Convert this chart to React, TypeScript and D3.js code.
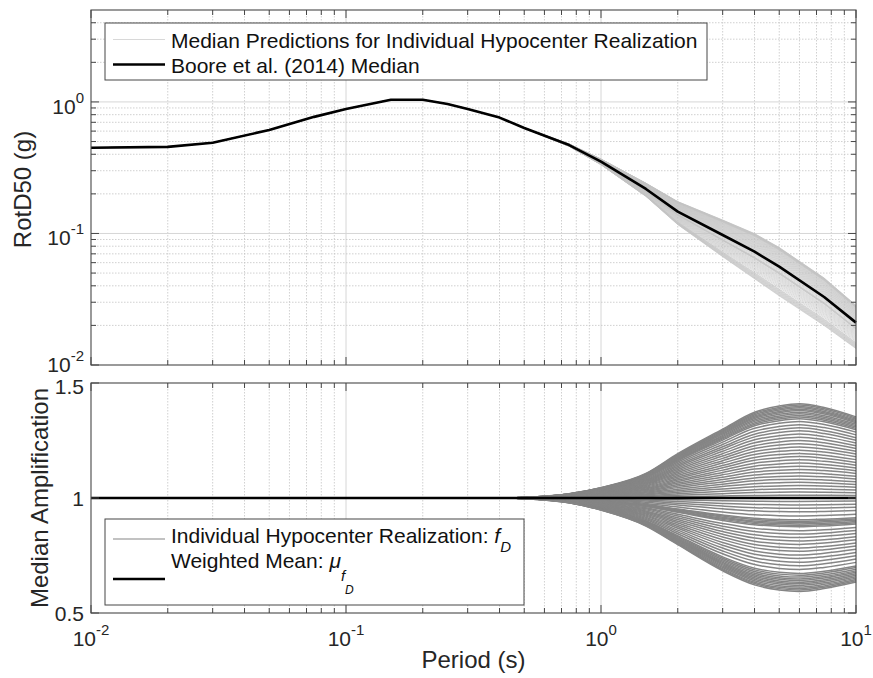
import React from "react";
import * as d3 from "d3";

// Periods (s) at which the GMPE median is evaluated
const periods = [0.01, 0.02, 0.03, 0.05, 0.075, 0.1, 0.15, 0.2, 0.25, 0.3, 0.4, 0.5, 0.75, 1, 1.5, 2, 3, 4, 5, 7.5, 10];
// Boore et al. (2014) median RotD50 (g)
const medianSa = [0.449, 0.455, 0.49, 0.612, 0.77, 0.885, 1.04, 1.04, 0.965, 0.885, 0.76, 0.634, 0.47, 0.352, 0.218, 0.1465, 0.0974, 0.0727, 0.0559, 0.0329, 0.021];

// Periods (s) used for the directivity amplification curves
const ampPeriods = [0.01, 0.02, 0.03, 0.05, 0.075, 0.1, 0.15, 0.2, 0.25, 0.3, 0.4, 0.5, 0.75, 1, 1.5, 2, 3, 4, 5, 6, 7.5, 10];
// Relative growth of the amplification with period (fraction of the 6 s value)
const growthUp = [0, 0, 0, 0, 0, 0, 0, 0, 0, 0, 0, 0.006, 0.045, 0.11, 0.26, 0.47, 0.73, 0.91, 0.975, 1, 0.96, 0.86];
const growthDown = [0, 0, 0, 0, 0, 0, 0, 0, 0, 0, 0, 0.007, 0.052, 0.13, 0.3, 0.5, 0.78, 0.93, 0.985, 1, 0.97, 0.9];

// Amplification f_D of each hypocenter realization at T = 6 s
const peakAmp = [
  1.41, 1.404, 1.398, 1.392, 1.386, 1.38, 1.373, 1.366, 1.359, 1.352, 1.345,
  1.333, 1.319, 1.305, 1.292, 1.278, 1.264, 1.25, 1.236, 1.222, 1.208, 1.194, 1.18,
  1.166, 1.152, 1.138, 1.124, 1.11, 1.096, 1.082, 1.068, 1.054, 1.04, 1.026, 1.012,
  0.985, 0.97, 0.955, 0.94, 0.922,
  0.905, 0.899, 0.893, 0.887, 0.881, 0.875,
  0.858, 0.843, 0.828, 0.813, 0.798, 0.783, 0.768, 0.752, 0.737, 0.721, 0.705, 0.689,
  0.672, 0.664, 0.656, 0.648, 0.641, 0.634, 0.627, 0.62, 0.613, 0.606, 0.6, 0.594,
];

const xTickExps = [-2, -1, 0, 1];
const yTopTickExps = [-2, -1, 0];
const yBottomTicks = [0.5, 1, 1.5];

const FONT = "'Liberation Sans', Arial, Helvetica, sans-serif";
const W = 873;
const H = 678;
const xL = 91;
const xR = 856;
const top1 = 10;
const bot1 = 365;
const top2 = 383;
const bot2 = 613;

const x = d3.scaleLog().domain([0.01, 10]).range([xL, xR]);
const y1 = d3.scaleLog().domain([0.01, 5]).range([bot1, top1]);
const y2 = d3.scaleLinear().domain([0.5, 1.5]).range([bot2, top2]);

const ampCurves = peakAmp.map((p) =>
  ampPeriods.map((T, i) => ({ T, v: 1 + (p - 1) * (p >= 1 ? growthUp[i] : growthDown[i]) }))
);
const topCurves = ampCurves.map((c) =>
  periods.map((T, i) => {
    const a = c.find((d) => d.T === T);
    return { T, v: medianSa[i] * (a ? a.v : 1) };
  })
);
const medianPts = periods.map((T, i) => ({ T, v: medianSa[i] }));

const lineTop = d3
  .line<{ T: number; v: number }>()
  .x((d) => x(d.T))
  .y((d) => y1(d.v));
const lineBottom = d3
  .line<{ T: number; v: number }>()
  .x((d) => x(d.T))
  .y((d) => y2(d.v))
  .curve(d3.curveMonotoneX);

const xMinor: number[] = [];
for (let e = -2; e < 1; e++) for (let k = 2; k <= 9; k++) xMinor.push(k * Math.pow(10, e));
const xMajorInner = [0.1, 1];
const yMinor: number[] = [];
for (let e = -2; e <= 0; e++)
  for (let k = 2; k <= 9; k++) {
    const v = k * Math.pow(10, e);
    if (v < 5) yMinor.push(v);
  }

const GRID = "#d6d6d6";
const GRID_MINOR = "#c4c4c4";
const AXIS = "#474747";
const MAJ = 8;
const MIN = 5;

function Frame({ top, bottom, yTicks }: { top: number; bottom: number; yTicks: { major: number[]; minor: number[] } }) {
  return (
    <g>
      {xTickExps.map((e) => Math.pow(10, e)).map((v) => (
        <g key={"xM" + v}>
          <line x1={x(v)} x2={x(v)} y1={bottom} y2={bottom - MAJ} stroke={AXIS} />
          <line x1={x(v)} x2={x(v)} y1={top} y2={top + MAJ} stroke={AXIS} />
        </g>
      ))}
      {xMinor.map((v) => (
        <g key={"xm" + v}>
          <line x1={x(v)} x2={x(v)} y1={bottom} y2={bottom - MIN} stroke={AXIS} />
          <line x1={x(v)} x2={x(v)} y1={top} y2={top + MIN} stroke={AXIS} />
        </g>
      ))}
      {yTicks.major.map((py, i) => (
        <g key={"yM" + i}>
          <line x1={xL} x2={xL + MAJ} y1={py} y2={py} stroke={AXIS} />
          <line x1={xR} x2={xR - MAJ} y1={py} y2={py} stroke={AXIS} />
        </g>
      ))}
      {yTicks.minor.map((py, i) => (
        <g key={"ym" + i}>
          <line x1={xL} x2={xL + MIN} y1={py} y2={py} stroke={AXIS} />
          <line x1={xR} x2={xR - MIN} y1={py} y2={py} stroke={AXIS} />
        </g>
      ))}
      <rect x={xL} y={top} width={xR - xL} height={bottom - top} fill="none" stroke={AXIS} strokeWidth={1.1} />
    </g>
  );
}

function VGrid({ top, bottom }: { top: number; bottom: number }) {
  return (
    <g>
      {xMinor.map((v) => (
        <line key={"gm" + v} x1={x(v)} x2={x(v)} y1={top} y2={bottom} stroke={GRID_MINOR} strokeWidth={0.8} strokeDasharray="1.5,1.5" />
      ))}
      {xMajorInner.map((v) => (
        <line key={"gM" + v} x1={x(v)} x2={x(v)} y1={top} y2={bottom} stroke={GRID} strokeWidth={1} />
      ))}
    </g>
  );
}

export default function App() {
  return (
    <div style={{ position: "absolute", left: 0, top: 0, width: W, height: H, background: "#fff" }}>
      <svg width={W} height={H} style={{ display: "block", fontFamily: FONT }}>
        <rect x={0} y={0} width={W} height={H} fill="#fff" />

        {/* ---------- Upper panel: RotD50 spectra ---------- */}
        <VGrid top={top1} bottom={bot1} />
        {yMinor.map((v) => (
          <line key={"hm" + v} x1={xL} x2={xR} y1={y1(v)} y2={y1(v)} stroke={GRID_MINOR} strokeWidth={0.8} strokeDasharray="1.5,1.5" />
        ))}
        {[0.1, 1].map((v) => (
          <line key={"hM" + v} x1={xL} x2={xR} y1={y1(v)} y2={y1(v)} stroke={GRID} strokeWidth={1} />
        ))}
        <g fill="none" stroke="#c2c2c2" strokeWidth={0.6}>
          {topCurves.map((c, i) => (
            <path key={"tc" + i} d={lineTop(c) || ""} />
          ))}
        </g>
        <path d={lineTop(medianPts) || ""} fill="none" stroke="#000" strokeWidth={2.6} strokeLinejoin="round" />
        <Frame
          top={top1}
          bottom={bot1}
          yTicks={{ major: [0.01, 0.1, 1].map((v) => y1(v)), minor: yMinor.map((v) => y1(v)) }}
        />
        {yTopTickExps.map((e) => (
          <text key={"yl" + e} x={84} y={y1(Math.pow(10, e)) + (e === -2 ? 7 : 12)} textAnchor="end" fontSize={21} fill="#262626">
            10<tspan fontSize={15} dy={-11}>{String(e)}</tspan>
          </text>
        ))}
        <text transform={`translate(31,${(top1 + bot1) / 2 + 2}) rotate(-90)`} textAnchor="middle" fontSize={24} fill="#262626">
          RotD50 (g)
        </text>

        {/* Upper legend */}
        <rect x={105} y={23} width={602} height={57} fill="#fff" stroke={AXIS} strokeWidth={1} />
        <line x1={113} x2={165} y1={39.5} y2={39.5} stroke="#d8d8d8" strokeWidth={1} />
        <text x={171} y={47.5} fontSize={21} fill="#111">Median Predictions for Individual Hypocenter Realization</text>
        <line x1={113} x2={165} y1={64.5} y2={64.5} stroke="#000" strokeWidth={2.6} />
        <text x={171} y={72.5} fontSize={21} fill="#111">Boore et al. (2014) Median</text>

        {/* ---------- Lower panel: directivity amplification ---------- */}
        <VGrid top={top2} bottom={bot2} />
        <g fill="none" stroke="#858585" strokeWidth={1.5}>
          {ampCurves.map((c, i) => (
            <path key={"ac" + i} d={lineBottom(c) || ""} />
          ))}
        </g>
        <line x1={x(0.01)} x2={x(10)} y1={y2(1)} y2={y2(1)} stroke="#000" strokeWidth={2.6} />
        <Frame top={top2} bottom={bot2} yTicks={{ major: yBottomTicks.map((v) => y2(v)), minor: [] }} />
        {yBottomTicks.map((v) => (
          <text key={"yb" + v} x={84} y={y2(v) + (v === 1.5 ? 11 : 7.5)} textAnchor="end" fontSize={21} fill="#262626">
            {String(v)}
          </text>
        ))}
        <text transform={`translate(48,${(top2 + bot2) / 2}) rotate(-90)`} textAnchor="middle" fontSize={24} fill="#262626">
          Median Amplification
        </text>

        {/* Lower legend */}
        <rect x={105} y={519} width={419} height={86} fill="#fff" stroke={AXIS} strokeWidth={1} />
        <line x1={113} x2={165} y1={539} y2={539} stroke="#858585" strokeWidth={1} />
        <text x={171} y={543} fontSize={21} fill="#111">
          Individual Hypocenter Realization:{" "}
          <tspan fontStyle="italic">f</tspan>
          <tspan fontStyle="italic" fontSize={15} dy={9}>D</tspan>
        </text>
        <line x1={113} x2={165} y1={579} y2={579} stroke="#000" strokeWidth={2.6} />
        <text x={171} y={568} fontSize={21} fill="#111">
          Weighted Mean:{" "}
          <tspan fontStyle="italic">μ</tspan>
          <tspan fontStyle="italic" fontSize={15} dy={13}>f</tspan>
          <tspan fontStyle="italic" fontSize={12} dy={13}>D</tspan>
        </text>

        {/* Shared period axis */}
        {xTickExps.map((e) => (
          <text key={"xl" + e} x={x(Math.pow(10, e))} y={646} textAnchor="middle" fontSize={21} fill="#262626">
            10<tspan fontSize={15} dy={-11}>{String(e)}</tspan>
          </text>
        ))}
        <text x={(xL + xR) / 2} y={668} textAnchor="middle" fontSize={24} fill="#262626">
          Period (s)
        </text>
      </svg>
    </div>
  );
}
